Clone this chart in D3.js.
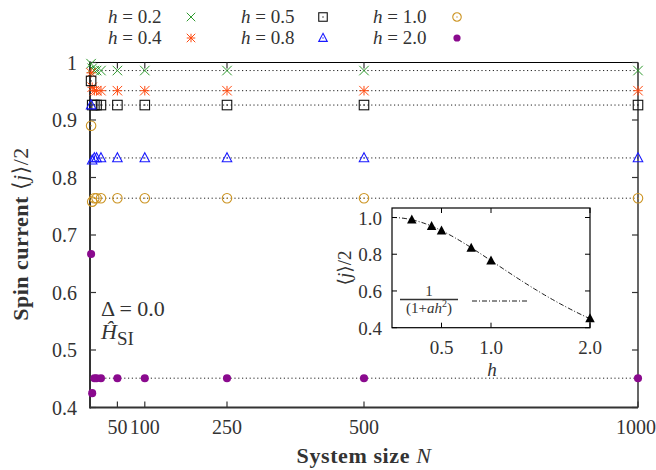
<!DOCTYPE html>
<meta charset="utf-8">
<style>
    body { margin: 0; background: #fff; }
    text { font-family: "Liberation Serif", "DejaVu Serif", serif; fill: #333; }
    .dotted { stroke: #222; stroke-width: 1; stroke-dasharray: 1.2,2.6; }
</style>
<body>
<script src="https://cdn.jsdelivr.net/npm/d3@7"></script>
<script>

    // system sizes N
    var sizes = [2, 4, 8, 12, 20, 50, 100, 250, 500, 1000];

    var fields = ["0.2", "0.4", "0.5", "0.8", "1.0", "2.0"];

    // spin current <j>/2 for each field h, one value per size
    var j02 = [0.998, 0.990, 0.986, 0.986, 0.986, 0.986, 0.986, 0.986, 0.986, 0.986];
    var j04 = [0.982, 0.957, 0.951, 0.951, 0.951, 0.951, 0.951, 0.951, 0.951, 0.951];
    var j05 = [0.968, 0.926, 0.926, 0.926, 0.926, 0.926, 0.926, 0.926, 0.926, 0.926];
    var j08 = [0.926, 0.830, 0.834, 0.834, 0.834, 0.834, 0.834, 0.834, 0.834, 0.834];
    var j10 = [0.890, 0.758, 0.764, 0.764, 0.764, 0.764, 0.764, 0.764, 0.764, 0.764];
    var j20 = [0.667, 0.425, 0.451, 0.451, 0.451, 0.451, 0.451, 0.451, 0.451, 0.451];

    // asymptotic values (dotted lines)
    var limits = [0.986, 0.951, 0.926, 0.834, 0.764, 0.451];

    var xTicks = [50, 100, 250, 500, 1000];
    var yTicks = [0.4, 0.5, 0.6, 0.7, 0.8, 0.9, 1];

    // inset: <j>/2 against h, with fit 1/(1+a h^2)
    var insetH = [0.2, 0.4, 0.5, 0.8, 1.0, 2.0];
    var insetJ = [0.988, 0.953, 0.928, 0.834, 0.765, 0.450];
    var fitA = 0.307;
    var insetXTicks = [0.5, 1.0, 2.0];
    var insetYTicks = [0.4, 0.6, 0.8, 1.0];

    var series = [
        {h: fields[0], values: j02, color: "#2e9a2e", shape: "cross"},
        {h: fields[1], values: j04, color: "#ff4a10", shape: "star"},
        {h: fields[2], values: j05, color: "#111", shape: "square"},
        {h: fields[3], values: j08, color: "#1a1aff", shape: "triangle"},
        {h: fields[4], values: j10, color: "#cc9422", shape: "circle"},
        {h: fields[5], values: j20, color: "#8a0a8e", shape: "dot"}
    ];

    var width = 656, height = 470;
    var svg = d3.select("body").append("svg")
            .attr("width", width)
            .attr("height", height);

    var x = d3.scaleLinear().domain([0, 1000]).range([90, 638]);
    var y = d3.scaleLinear().domain([0.4, 1]).range([407.5, 62.5]);

    function marker(g, shape, color, s) {
        var r = s / 2;
        if (shape === "cross") {
            g.append("path").attr("d", "M" + -r + "," + -r + "L" + r + "," + r + "M" + -r + "," + r + "L" + r + "," + -r)
                .attr("stroke", color).attr("stroke-width", 1).attr("fill", "none");
        } else if (shape === "star") {
            g.append("path").attr("d", "M" + -r + "," + -r + "L" + r + "," + r + "M" + -r + "," + r + "L" + r + "," + -r +
                    "M0," + -r + "L0," + r + "M" + -r + ",0L" + r + ",0")
                .attr("stroke", color).attr("stroke-width", 1).attr("fill", "none");
        } else if (shape === "square") {
            g.append("rect").attr("x", -r).attr("y", -r).attr("width", s).attr("height", s)
                .attr("stroke", color).attr("stroke-width", 1.1).attr("fill", "none");
            g.append("circle").attr("r", 0.7).attr("fill", color);
        } else if (shape === "triangle") {
            g.append("path").attr("d", "M0," + (-r * 1.1) + "L" + r + "," + (r * 0.8) + "L" + -r + "," + (r * 0.8) + "Z")
                .attr("stroke", color).attr("stroke-width", 1.1).attr("fill", "none");
            g.append("circle").attr("r", 0.7).attr("fill", color);
        } else if (shape === "circle") {
            g.append("circle").attr("r", r).attr("stroke", color).attr("stroke-width", 1.1).attr("fill", "none");
            g.append("circle").attr("r", 0.7).attr("fill", color);
        } else if (shape === "dot") {
            g.append("circle").attr("r", r * 0.85).attr("fill", color);
        } else if (shape === "filltri") {
            g.append("path").attr("d", "M0," + (-r * 1.1) + "L" + r + "," + (r * 0.8) + "L" + -r + "," + (r * 0.8) + "Z")
                .attr("fill", color);
        }
    }

    // dotted asymptote lines
    svg.append("g").selectAll("line")
        .data(limits)
        .join("line")
            .attr("class", "dotted")
            .attr("x1", x(0)).attr("x2", x(1000))
            .attr("y1", function(d) { return y(d); })
            .attr("y2", function(d) { return y(d); });

    // frame and ticks
    var frame = svg.append("g");
    frame.append("line").attr("x1", x(0)).attr("x2", x(1000)).attr("y1", y(1)).attr("y2", y(1))
        .attr("stroke", "#000").attr("stroke-width", 1.2);
    frame.append("line").attr("x1", x(1000)).attr("x2", x(1000)).attr("y1", y(1)).attr("y2", y(0.4))
        .attr("stroke", "#000").attr("stroke-width", 1.2);
    frame.append("line").attr("x1", x(0)).attr("x2", x(1000)).attr("y1", y(0.4)).attr("y2", y(0.4))
        .attr("stroke", "#333").attr("stroke-width", 2);
    frame.append("line").attr("x1", x(0)).attr("x2", x(0)).attr("y1", y(1) - 1).attr("y2", y(0.4) + 1)
        .attr("stroke", "#333").attr("stroke-width", 2);

    xTicks.forEach(function(t) {
        frame.append("line").attr("x1", x(t)).attr("x2", x(t)).attr("y1", y(0.4)).attr("y2", y(0.4) - 6)
            .attr("stroke", "#333").attr("stroke-width", 1.2);
        frame.append("line").attr("x1", x(t)).attr("x2", x(t)).attr("y1", y(1)).attr("y2", y(1) + 6)
            .attr("stroke", "#333").attr("stroke-width", 1.2);
        frame.append("text").attr("x", t === 1000 ? x(t) - 2 : x(t)).attr("y", 434)
            .attr("text-anchor", "middle").style("font-size", "20px").text(t);
    });
    yTicks.forEach(function(t) {
        frame.append("line").attr("x1", x(0)).attr("x2", x(0) + 6).attr("y1", y(t)).attr("y2", y(t))
            .attr("stroke", "#333").attr("stroke-width", 1.2);
        frame.append("line").attr("x1", x(1000)).attr("x2", x(1000) - 6).attr("y1", y(t)).attr("y2", y(t))
            .attr("stroke", "#333").attr("stroke-width", 1.2);
        frame.append("text").attr("x", 77).attr("y", y(t) + 7)
            .attr("text-anchor", "end").style("font-size", "20px").text(d3.format("~g")(t));
    });

    // data points
    series.forEach(function(s) {
        s.values.forEach(function(v, i) {
            var g = svg.append("g").attr("transform", "translate(" + x(sizes[i]) + "," + y(v) + ")");
            marker(g, s.shape, s.color, 9.5);
        });
    });

    // legend
    var legendPos = [[108, 191, 17], [108, 191, 38], [241, 323, 17], [241, 323, 38], [373, 457, 17], [373, 457, 38]];
    series.forEach(function(s, i) {
        var p = legendPos[i];
        var t = svg.append("text").attr("x", p[0]).attr("y", p[2] + 6).style("font-size", "19px");
        t.append("tspan").style("font-style", "italic").text("h");
        t.append("tspan").text(" = " + s.h);
        var g = svg.append("g").attr("transform", "translate(" + p[1] + "," + p[2] + ")");
        marker(g, s.shape, s.color, 8.5);
    });

    // axis titles
    var yt = svg.append("text")
        .attr("transform", "translate(28,234) rotate(-90)")
        .attr("text-anchor", "middle").style("font-size", "22px").style("letter-spacing", "0.5px");
    yt.append("tspan").style("font-weight", "bold").text("Spin current ");
    yt.append("tspan").text("\u27E8");
    yt.append("tspan").style("font-style", "italic").text("j");
    yt.append("tspan").text("\u27E9/2");

    var xt = svg.append("text").attr("x", 364).attr("y", 463)
        .attr("text-anchor", "middle").style("font-size", "22px").style("letter-spacing", "0.6px");
    xt.append("tspan").style("font-weight", "bold").text("System size ");
    xt.append("tspan").style("font-style", "italic").text("N");

    // annotation
    svg.append("text").attr("x", 101).attr("y", 316).style("font-size", "22px").text("\u0394 = 0.0");
    var ht = svg.append("text").attr("x", 101).attr("y", 339).style("font-size", "22px");
    ht.append("tspan").style("font-style", "italic").text("\u0124");
    ht.append("tspan").attr("dy", 6).style("font-size", "19px").text("SI");

    // inset
    var xi = d3.scaleLinear().domain([0, 2]).range([392, 590]);
    var yi = d3.scaleLinear().domain([0.4, 1.0]).range([327.7, 217.5]);
    var insetTop = 208;
    var inset = svg.append("g");
    inset.append("rect").attr("x", xi(0)).attr("y", insetTop)
        .attr("width", xi(2) - xi(0)).attr("height", yi(0.4) - insetTop)
        .attr("fill", "#fff").attr("stroke", "#000").attr("stroke-width", 1.2);

    insetXTicks.forEach(function(t) {
        inset.append("line").attr("x1", xi(t)).attr("x2", xi(t)).attr("y1", yi(0.4)).attr("y2", yi(0.4) - 5)
            .attr("stroke", "#000");
        inset.append("line").attr("x1", xi(t)).attr("x2", xi(t)).attr("y1", insetTop).attr("y2", insetTop + 5)
            .attr("stroke", "#000");
        inset.append("text").attr("x", xi(t)).attr("y", 354)
            .attr("text-anchor", "middle").style("font-size", "19px").text(d3.format(".1f")(t));
    });
    insetYTicks.forEach(function(t) {
        inset.append("line").attr("x1", xi(0)).attr("x2", xi(0) + 5).attr("y1", yi(t)).attr("y2", yi(t))
            .attr("stroke", "#000");
        inset.append("line").attr("x1", xi(2)).attr("x2", xi(2) - 5).attr("y1", yi(t)).attr("y2", yi(t))
            .attr("stroke", "#000");
        inset.append("text").attr("x", 382).attr("y", yi(t) + 7)
            .attr("text-anchor", "end").style("font-size", "19px").text(d3.format(".1f")(t));
    });

    var fitH = d3.range(0, 2.0001, 0.02);
    inset.append("path")
        .datum(fitH)
        .attr("fill", "none").attr("stroke", "#000").attr("stroke-width", 0.9)
        .attr("stroke-dasharray", "5,2,1,2")
        .attr("d", d3.line()
            .x(function(h) { return xi(h); })
            .y(function(h) { return yi(1 / (1 + fitA * h * h)); }));

    insetH.forEach(function(h, i) {
        var g = inset.append("g").attr("transform", "translate(" + xi(h) + "," + yi(insetJ[i]) + ")");
        marker(g, "filltri", "#000", 9.5);
    });

    // inset legend
    inset.append("text").attr("x", 429).attr("y", 296).attr("text-anchor", "middle")
        .style("font-size", "15px").text("1");
    inset.append("line").attr("x1", 400).attr("x2", 458).attr("y1", 299.5).attr("y2", 299.5)
        .attr("stroke", "#333").attr("stroke-width", 1.3);
    var fr = inset.append("text").attr("x", 429).attr("y", 313).attr("text-anchor", "middle")
        .style("font-size", "15px");
    fr.append("tspan").text("(1+");
    fr.append("tspan").style("font-style", "italic").text("ah");
    fr.append("tspan").attr("dy", -6).style("font-size", "10px").text("2");
    fr.append("tspan").attr("dy", 6).text(")");
    inset.append("line").attr("x1", 472).attr("x2", 528).attr("y1", 301).attr("y2", 301)
        .attr("stroke", "#000").attr("stroke-width", 0.9).attr("stroke-dasharray", "5,2,1,2");

    var iyt = inset.append("text").attr("transform", "translate(351,268) rotate(-90)")
        .attr("text-anchor", "middle").style("font-size", "19px");
    iyt.append("tspan").text("\u27E8");
    iyt.append("tspan").style("font-style", "italic").text("j");
    iyt.append("tspan").text("\u27E9/2");

    inset.append("text").attr("x", 492).attr("y", 376).attr("text-anchor", "middle")
        .style("font-size", "19px").style("font-style", "italic").text("h");

</script>
